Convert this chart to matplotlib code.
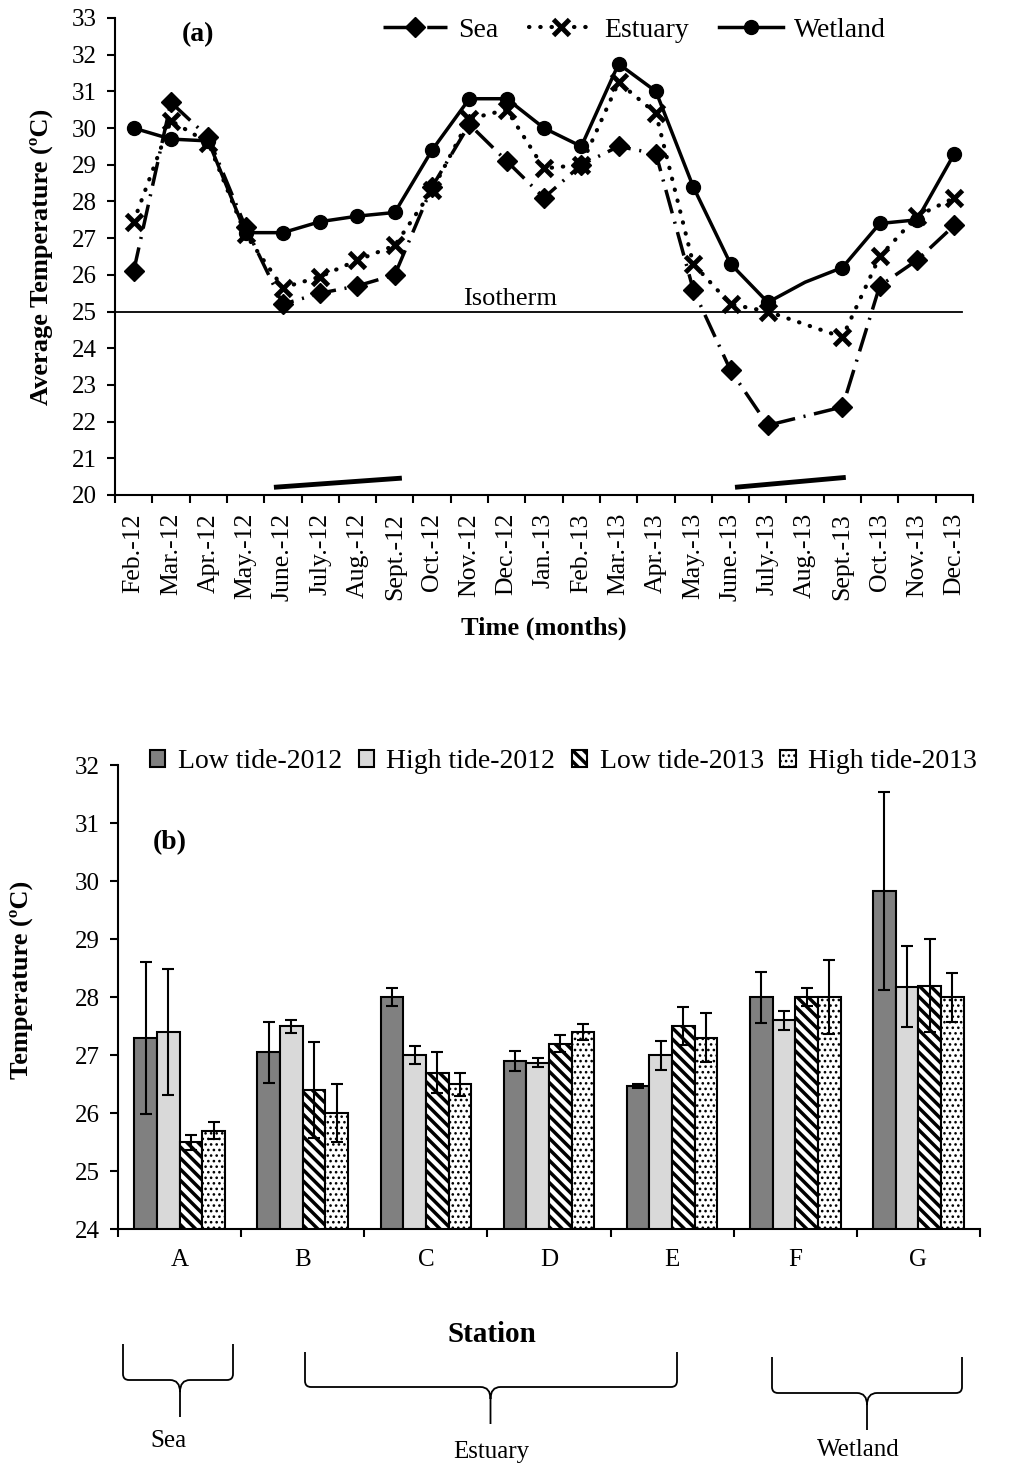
import numpy as np
import matplotlib
matplotlib.use("Agg")
import matplotlib.pyplot as plt
from matplotlib.path import Path
from matplotlib.patches import PathPatch

plt.rcParams['font.family'] = ['Liberation Serif', 'DejaVu Serif']

# ---------------- data (a) ----------------
months = ["Feb.-12", "Mar.-12", "Apr.-12", "May.-12", "June.-12", "July.-12", "Aug.-12",
          "Sept.-12", "Oct.-12", "Nov.-12", "Dec.-12", "Jan.-13", "Feb.-13", "Mar.-13",
          "Apr.-13", "May.-13", "June.-13", "July.-13", "Aug.-13", "Sept.-13", "Oct.-13",
          "Nov.-13", "Dec.-13"]
nan = np.nan
sea = [26.1, 30.7, 29.75, 27.3, 25.2, 25.5, 25.7, 26.0, 28.4, 30.1, 29.1, 28.1, 29.0,
       29.5, 29.3, 25.6, 23.4, 21.9, nan, 22.4, 25.7, 26.4, 27.35]
estuary = [27.45, 30.2, 29.6, 27.1, 25.65, 25.95, 26.4, 26.8, 28.3, 30.25, 30.5, 28.9,
           29.0, 31.25, 30.4, 26.3, 25.2, 25.0, nan, 24.3, 26.5, 27.6, 28.1]
wetland = [30.0, 29.7, 29.65, 27.15, 27.15, 27.45, 27.6, 27.7, 29.4, 30.8, 30.8, 30.0,
           29.5, 31.75, 31.0, 28.4, 26.3, 25.25, 25.8, 26.2, 27.4, 27.5, 29.3]
isotherm = 25.0
# annotation bars near the bottom of panel (a)
seg1_x, seg1_y = [3.76, 7.19], [20.21, 20.46]
seg2_x, seg2_y = [16.12, 19.09], [20.21, 20.48]

# ---------------- data (b) ----------------
stations = ["A", "B", "C", "D", "E", "F", "G"]
low12 = [27.3, 27.05, 28.0, 26.9, 26.47, 28.0, 29.83]
low12_err = [1.31, 0.53, 0.15, 0.17, 0.03, 0.44, 1.7]
high12 = [27.4, 27.5, 27.0, 26.87, 27.0, 27.6, 28.18]
high12_err = [1.08, 0.11, 0.15, 0.08, 0.25, 0.16, 0.7]
low13 = [25.5, 26.4, 26.7, 27.2, 27.5, 28.0, 28.2]
low13_err = [0.13, 0.83, 0.35, 0.15, 0.33, 0.15, 0.8]
high13 = [25.7, 26.0, 26.5, 27.4, 27.3, 28.0, 28.0]
high13_err = [0.15, 0.5, 0.2, 0.13, 0.42, 0.64, 0.42]
series_names = ["Low tide-2012", "High tide-2012", "Low tide-2013", "High tide-2013"]

W, H = 1011, 1468
fig = plt.figure(figsize=(W / 100, H / 100), dpi=100)

# ================= panel (a) =================
ax1 = fig.add_axes([115 / W, 1 - 495 / H, (973 - 115) / W, (495 - 18) / H])
x = np.arange(len(months))


def finite(vals):
    v = np.array(vals, dtype=float)
    m = np.isfinite(v)
    return x[m], v[m]


xs, ys = finite(sea)
ax1.plot(xs, ys, color='black', lw=2.5, linestyle=(0, (7, 2.5, 0.6, 2.5)),
         marker='D', ms=10, label='Sea')
xe, ye = finite(estuary)
ax1.plot(xe, ye, color='black', lw=3, linestyle=(0, (0.1, 2.6)), dash_capstyle='round',
         marker='x', ms=12, mew=3.5, label='Estuary')
wv = np.array(wetland, dtype=float)
marks = [i for i in range(len(months)) if months[i] != "Aug.-13"]
ax1.plot(x, wv, color='black', lw=2.5, marker='o', ms=10, markevery=marks, label='Wetland')

ax1.axhline(isotherm, xmin=0, xmax=0.987, color='black', lw=1.3)
ax1.text(10.1, isotherm + 0.05, "Isotherm", fontsize=19, ha='center', va='bottom')

ax1.plot(seg1_x, seg1_y, color='black', lw=3.5, solid_capstyle='butt')
ax1.plot(seg2_x, seg2_y, color='black', lw=3.5, solid_capstyle='butt')

ax1.set_xlim(-0.5, len(months) - 0.5)
ax1.set_ylim(20, 33)
ax1.set_yticks(np.arange(20, 34, 1))
ax1.set_xticks(x)
ax1.set_xticklabels(months, rotation=90, fontsize=18.5)
ax1.set_xticks(np.arange(-0.5, len(months), 1), minor=True)
ax1.tick_params(axis='x', which='major', length=0, pad=13)
ax1.tick_params(axis='x', which='minor', length=6, width=1.5, direction='out')
ax1.tick_params(axis='y', length=6, width=1.5, direction='out', labelsize=18, pad=7)
for s in ['top', 'right']:
    ax1.spines[s].set_visible(False)
for s in ['left', 'bottom']:
    ax1.spines[s].set_linewidth(1.5)
ax1.set_ylabel("Average Temperature (ºC)", fontsize=19, fontweight='bold')
ax1.yaxis.set_label_coords((53 - 115) / 858, 0.5)
ax1.text(0.5, (495 - 628) / 477, "Time (months)", transform=ax1.transAxes,
         fontsize=19, fontweight='bold', ha='center', va='center')
ax1.text((182 - 115) / 858, (495 - 35) / 477, "(a)", transform=ax1.transAxes,
         fontsize=20, fontweight='bold', ha='left', va='center')
ax1.legend(loc='center left', bbox_to_anchor=((383 - 115) / 858, (495 - 30) / 477),
           ncol=3, frameon=False, fontsize=20, handlelength=2.3, handletextpad=0.4,
           columnspacing=1.1, borderpad=0, borderaxespad=0)

# ================= panel (b) =================
ax2 = fig.add_axes([118 / W, 1 - 1229.3 / H, (980 - 118) / W, (1229.3 - 765) / H])
xb = np.arange(len(stations))
bw = 0.184
styles = [dict(facecolor='#808080', hatch=None, hlw=1.0),
          dict(facecolor='#d9d9d9', hatch=None, hlw=1.0),
          dict(facecolor='white', hatch='\\\\\\', hlw=2.5),
          dict(facecolor='white', hatch='...', hlw=1.1)]
vals = [low12, high12, low13, high13]
errs = [low12_err, high12_err, low13_err, high13_err]
containers = []
for k in range(4):
    with plt.rc_context({'hatch.linewidth': styles[k]['hlw']}):
        cont = ax2.bar(xb + (k - 1.5) * bw, vals[k], bw, bottom=0, yerr=errs[k],
                       facecolor=styles[k]['facecolor'], hatch=styles[k]['hatch'],
                       edgecolor='black', linewidth=1.5, label=series_names[k],
                       error_kw=dict(ecolor='black', elinewidth=1.5, capsize=4, capthick=1.5))
    for p in cont.patches:
        if hasattr(p, 'set_hatch_linewidth'):
            p.set_hatch_linewidth(styles[k]['hlw'])
    containers.append(cont)
ax2.set_xlim(-0.5, len(stations) - 0.5)
ax2.set_ylim(24, 32)
ax2.set_yticks(np.arange(24, 33, 1))
ax2.set_xticks(xb)
ax2.set_xticklabels(stations, fontsize=18)
ax2.set_xticks(np.arange(-0.5, len(stations), 1), minor=True)
ax2.tick_params(axis='x', which='major', length=0, pad=14)
ax2.tick_params(axis='x', which='minor', length=6, width=1.5, direction='out')
ax2.tick_params(axis='y', length=6, width=1.5, direction='out', labelsize=18, pad=7)
for s in ['top', 'right']:
    ax2.spines[s].set_visible(False)
for s in ['left', 'bottom']:
    ax2.spines[s].set_linewidth(1.5)
ax2.set_ylabel("Temperature (ºC)", fontsize=19, fontweight='bold')
ax2.yaxis.set_label_coords((33 - 118) / 862, (1229.3 - 980) / 464.3)
ax2.text((153 - 118) / 862, (1229.3 - 843) / 464.3, "(b)", transform=ax2.transAxes,
         fontsize=20, fontweight='bold', ha='left', va='center')
leg = ax2.legend(loc='center left', bbox_to_anchor=((150 - 118) / 862, (1229.3 - 762) / 464.3),
                 ncol=4, frameon=False, fontsize=20, handlelength=0.55, handleheight=0.55,
                 handletextpad=0.45, columnspacing=0.6, borderpad=0, borderaxespad=0)
for k, patch in enumerate(leg.get_patches()):
    if hasattr(patch, 'set_hatch_linewidth'):
        patch.set_hatch_linewidth(styles[k]['hlw'])

# ================= braces & labels (pixel overlay) =================
ov = fig.add_axes([0, 0, 1, 1], zorder=-1)
ov.set_xlim(0, W)
ov.set_ylim(H, 0)
ov.axis('off')
ov.patch.set_alpha(0)


def brace(x0, x1, ytop, yh, ytip, xc):
    r = 6
    r2 = 10
    verts = [(x0, ytop), (x0, yh - r), (x0, yh), (x0 + r, yh), (xc - r2, yh),
             (xc, yh), (xc, yh + r2 + 2), (xc, ytip),
             (xc, yh + r2 + 2), (xc, yh), (xc + r2, yh), (x1 - r, yh),
             (x1, yh), (x1, yh - r), (x1, ytop)]
    codes = [Path.MOVETO, Path.LINETO, Path.CURVE3, Path.CURVE3, Path.LINETO,
             Path.CURVE3, Path.CURVE3, Path.LINETO,
             Path.MOVETO, Path.CURVE3, Path.CURVE3, Path.LINETO,
             Path.CURVE3, Path.CURVE3, Path.LINETO]
    ov.add_patch(PathPatch(Path(verts, codes), facecolor='none', edgecolor='black', lw=1.3))


brace(123, 233, 1344, 1380, 1417, 180)
brace(305, 677, 1352, 1387, 1424, 490.5)
brace(772, 962, 1357, 1393, 1430, 867)
ov.text(492, 1335, "Station", fontsize=21, fontweight='bold', ha='center', va='center')
ov.text(168, 1441, "Sea", fontsize=18, ha='center', va='center')
ov.text(491, 1452, "Estuary", fontsize=18, ha='center', va='center')
ov.text(858, 1450, "Wetland", fontsize=18, ha='center', va='center')

fig.savefig("out.png", dpi=100)
